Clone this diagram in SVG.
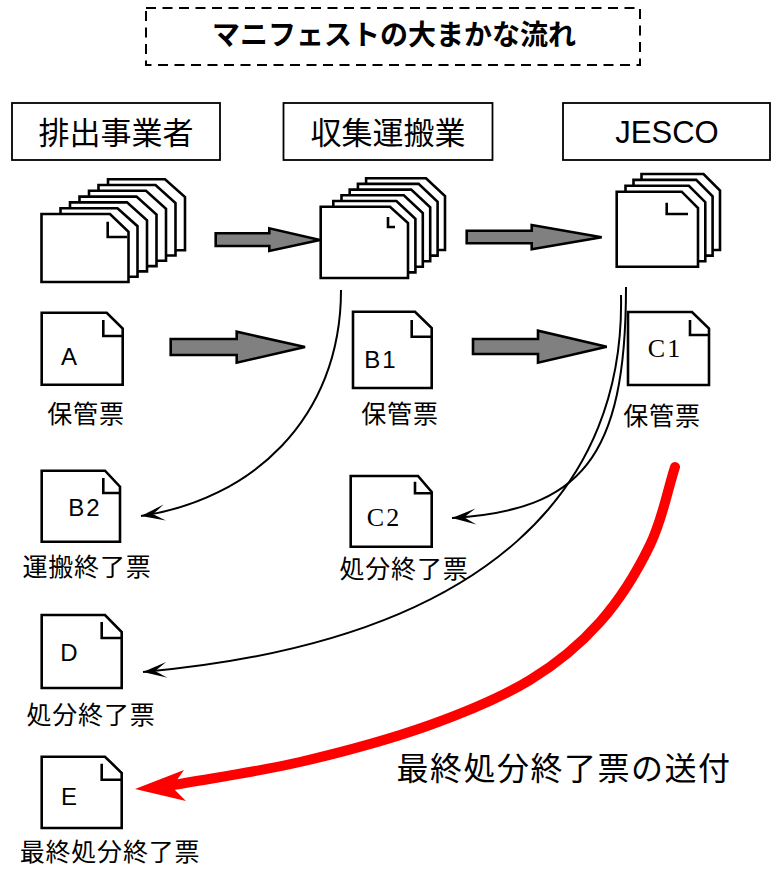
<svg xmlns="http://www.w3.org/2000/svg" width="781" height="870" viewBox="0 0 781 870">
<style>
.pg{fill:#fff;stroke:#000;stroke-width:2.6;stroke-linejoin:miter}
.fold{fill:none;stroke:#000;stroke-width:2.6}
.hdr{fill:#fff;stroke:#000;stroke-width:1.8}
.jp{font-family:"Noto Sans CJK JP","Noto Sans",sans-serif;fill:#000}
.lat{font-family:"Liberation Sans",Arial,sans-serif;fill:#000}
.ser{font-family:"Liberation Serif","Times New Roman",serif;fill:#000}
.lbl{font-size:25px;letter-spacing:0.8px;text-anchor:middle}
.ltr{font-size:24px;letter-spacing:2px;text-anchor:middle}
.sltr{font-size:26px;letter-spacing:2px;text-anchor:middle}
.blk{fill:#808080;stroke:#000;stroke-width:2.6;stroke-linejoin:miter}
.cur{fill:none;stroke:#000;stroke-width:2}
</style>
<defs>
<marker id="ah" markerUnits="userSpaceOnUse" viewBox="-26 -10 28 20" refX="0" refY="0" markerWidth="28" markerHeight="20" orient="auto">
<path d="M0,0 L-24,-8 Q-16,-2.5 -12,0 Q-16,2.5 -24,8 Z" fill="#000"/>
</marker>
</defs>

<g id="title">
<rect x="146" y="8" width="494" height="57" fill="none" stroke="#000" stroke-width="2" stroke-dasharray="10,6.5"/>
<text class="jp" x="394" y="44.5" font-size="28" font-weight="bold" text-anchor="middle">マニフェストの大まかな流れ</text>
</g>

<g id="hdr-haishutsu">
<rect class="hdr" x="12" y="103" width="208" height="57"/>
<text class="jp" x="116" y="144" font-size="31" text-anchor="middle">排出事業者</text>
</g>
<g id="hdr-shushu">
<rect class="hdr" x="283.5" y="103" width="209" height="57"/>
<text class="jp" x="388" y="144" font-size="31" text-anchor="middle">収集運搬業</text>
</g>
<g id="hdr-jesco">
<rect class="hdr" x="563" y="103" width="207" height="57"/>
<text class="lat" x="667" y="143" font-size="31" text-anchor="middle">JESCO</text>
</g>

<g id="stack1">
<path class="pg" d="M108,179.2 H165 L185,197 V250.2 H108 Z"/>
<path class="pg" d="M98.5,185 H155.5 L175.5,203 V255.5 H98.5 Z"/>
<path class="pg" d="M89,190.8 H146 L166,208.8 V260.8 H89 Z"/>
<path class="pg" d="M79.5,196.6 H136.5 L156.5,214.6 V266.1 H79.5 Z"/>
<path class="pg" d="M70,202.4 H127 L147,220.4 V271.4 H70 Z"/>
<path class="pg" d="M60.5,208.2 H117.5 L137.5,226.2 V276.7 H60.5 Z"/>
<path class="pg" d="M41.5,214 H110 L128.5,231.7 V282 H41.5 Z"/>
<path class="fold" d="M107.7,221.7 V237 H127"/>
</g>

<g id="stack2">
<path class="pg" d="M366.1,178.2 H426 L445,196 V250 H366.1 Z"/>
<path class="pg" d="M357.9,183.9 H418.6 L437.6,201.7 V255.6 H357.9 Z"/>
<path class="pg" d="M349.7,189.6 H411.2 L430.2,207.4 V261.2 H349.7 Z"/>
<path class="pg" d="M341.5,195.3 H403.8 L422.8,213.1 V266.8 H341.5 Z"/>
<path class="pg" d="M333.3,201 H396.4 L415.4,218.8 V272.4 H333.3 Z"/>
<path class="pg" d="M320.7,206.7 H390 L408,223 V278 H320.7 Z"/>
<path class="fold" d="M388,217 V227 H395"/>
</g>

<g id="stack3">
<path class="pg" d="M641.5,174 H703.5 L720,190.5 V250 H641.5 Z"/>
<path class="pg" d="M633.5,179.9 H696.2 L712.6,196.3 V255.6 H633.5 Z"/>
<path class="pg" d="M625.5,185.8 H688.9 L705.3,202.2 V261.2 H625.5 Z"/>
<path class="pg" d="M616.7,191.7 H681.7 L698,208 V266.7 H616.7 Z"/>
<path class="fold" d="M666.7,202.7 V214 H688"/>
</g>

<g id="arrows-block">
<path class="blk" d="M215.7,233.3 H269.3 V228.3 L320,240 L269.3,251 V246 H215.7 Z"/>
<path class="blk" d="M466.7,230.7 H531.7 V225 L601.7,237.3 L531.7,249.3 V243.3 H466.7 Z"/>
<path class="blk" d="M170.7,339 H236.7 V331.7 L305,347 L236.7,362.7 V355 H170.7 Z"/>
<path class="blk" d="M473,339 H538 V330.7 L606.7,346.7 L538,362.7 V354 H473 Z"/>
</g>

<g id="doc-A">
<path class="pg" d="M41.7,312.7 H106.7 L122.7,328.5 V384.7 H41.7 Z"/>
<path class="fold" d="M103.3,320 V336 H122"/>
<text class="lat ltr" x="70" y="365">A</text>
<text class="jp lbl" x="86" y="423">保管票</text>
</g>

<g id="doc-B1">
<path class="pg" d="M353,311.7 H415 L431.7,328 V388 H353 Z"/>
<path class="fold" d="M411.7,320 V336.7 H431"/>
<text class="lat ltr" x="381" y="368">B1</text>
<text class="jp lbl" x="400" y="423">保管票</text>
</g>

<g id="doc-C1">
<path class="pg" d="M628,312 H692 L709,328.5 V385 H628 Z"/>
<path class="fold" d="M690,320 V335 H708"/>
<text class="ser sltr" x="665" y="357">C1</text>
<text class="jp lbl" x="662" y="425">保管票</text>
</g>

<g id="doc-B2">
<path class="pg" d="M41.7,470.7 H105 L120,486.7 V541.7 H41.7 Z"/>
<path class="fold" d="M103.3,478 V493 H119.5"/>
<text class="lat ltr" x="85" y="516">B2</text>
<text class="jp lbl" x="87" y="576">運搬終了票</text>
</g>

<g id="doc-C2">
<path class="pg" d="M350.7,476 H418 L431.7,492 V546.7 H350.7 Z"/>
<path class="fold" d="M415,481.7 V493.3 H431"/>
<text class="ser sltr" x="384" y="526">C2</text>
<text class="jp lbl" x="404" y="578">処分終了票</text>
</g>

<g id="doc-D">
<path class="pg" d="M41.7,615 H105 L121.7,632 V688 H41.7 Z"/>
<path class="fold" d="M101.7,622 V638 H121"/>
<text class="lat ltr" x="70" y="661">D</text>
<text class="jp lbl" x="91" y="724">処分終了票</text>
</g>

<g id="doc-E">
<path class="pg" d="M41.7,756.7 H105 L121.7,773 V828 H41.7 Z"/>
<path class="fold" d="M101.7,763.7 V779.7 H121"/>
<text class="lat ltr" x="70" y="805">E</text>
<text class="jp lbl" x="110" y="861">最終処分終了票</text>
</g>

<g id="connectors">
<path class="cur" d="M341,290 C341,420 250,500 141,516" marker-end="url(#ah)"/>
<path class="cur" d="M626,287 C626,460 580,510 452,518" marker-end="url(#ah)"/>
<path class="cur" d="M621,295 C625,480 500,640 143,672" marker-end="url(#ah)"/>
<path d="M675,467 C666.7,493 662.5,519.2 650,545 C637.5,570.8 620,599.5 600,622 C580,644.5 558.3,662.8 530,680 C501.7,697.2 468.3,711.3 430,725 C391.7,738.7 343.7,751.8 300,762 C256.3,772.2 212,778 168,786" fill="none" stroke="#ff0000" stroke-width="10" stroke-linecap="round"/>
<polygon points="135,789 184,770 172,787 186,801" fill="#ff0000"/>
</g>

<g id="label-send">
<text class="jp" x="564" y="780" font-size="32" letter-spacing="1.5" text-anchor="middle">最終処分終了票の送付</text>
</g>
</svg>
